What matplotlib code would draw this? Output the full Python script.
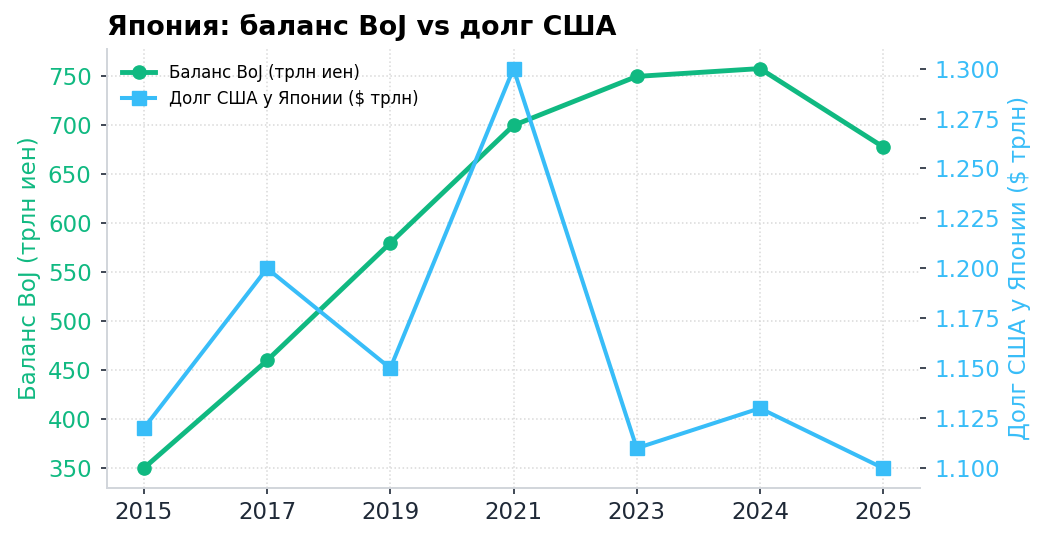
import matplotlib
matplotlib.use('Agg')
import matplotlib.pyplot as plt

plt.rcParams['font.family'] = ['DejaVu Sans']

years = ['2015', '2017', '2019', '2021', '2023', '2024', '2025']
boj_balance = [350, 460, 580, 700, 750, 758, 678]   # трлн иен
us_debt = [1.12, 1.20, 1.15, 1.30, 1.11, 1.13, 1.10]  # $ трлн

green = '#10b981'
blue = '#38bdf8'
spine_col = '#d1d5db'
dark = '#1f2937'

fig, ax = plt.subplots(figsize=(10.48, 5.4), dpi=100)
fig.subplots_adjust(left=0.102, right=0.878, top=0.91, bottom=0.096)

x = range(len(years))
l1, = ax.plot(x, boj_balance, color=green, lw=3.5, marker='o', ms=9.5,
              label='Баланс BoJ (трлн иен)', zorder=3)
ax2 = ax.twinx()
l2, = ax2.plot(x, us_debt, color=blue, lw=2.9, marker='s', ms=9.5,
               label='Долг США у Японии ($ трлн)', zorder=3)

ax.set_xticks(list(x))
ax.set_xticklabels(years)
ax.tick_params(axis='x', labelsize=16.5, colors=dark, length=4.5, width=1.2,
               pad=5)
ax.tick_params(axis='y', labelsize=16.5, labelcolor=green, color=dark,
               length=4.5, width=1.2, pad=6.5)
ax2.tick_params(axis='y', labelsize=16.5, labelcolor=blue, color=dark,
                length=4.5, width=1.2, pad=6)
ax2.yaxis.set_major_formatter(matplotlib.ticker.FormatStrFormatter('%.3f'))

ax.set_ylabel('Баланс BoJ (трлн иен)', color=green, fontsize=16.5,
              labelpad=5)
ax2.set_ylabel('Долг США у Японии ($ трлн)', color=blue, fontsize=16.5,
               labelpad=5)

ax.grid(True, linestyle=':', color='#d9d9d9', lw=1.1)
for s in ['top', 'right']:
    ax.spines[s].set_visible(False)
for s in ['top', 'right', 'left', 'bottom']:
    ax2.spines[s].set_visible(False)
ax.spines['left'].set_color(spine_col)
ax.spines['bottom'].set_color(spine_col)
ax.spines['left'].set_linewidth(1.4)
ax.spines['bottom'].set_linewidth(1.4)

ax.set_title('Япония: баланс BoJ vs долг США', loc='left', fontsize=19.4,
             fontweight='bold', pad=10)
ax2.legend([l1, l2], [l1.get_label(), l2.get_label()], loc='upper left',
           frameon=False, fontsize=12)

fig.savefig('out.png', dpi=100)
